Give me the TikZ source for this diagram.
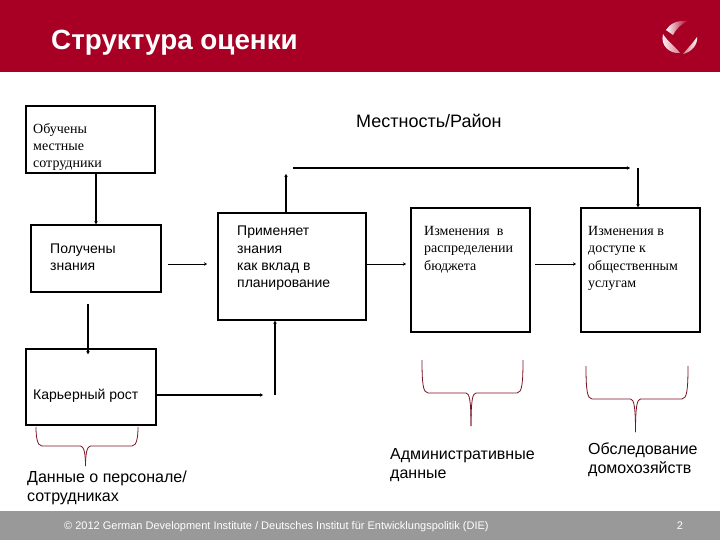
\documentclass[tikz,border=0pt]{standalone}
\usepackage{fontspec}
\setmainfont{Liberation Sans}
\newfontfamily\serifcyr{Liberation Serif}
\usetikzlibrary{arrows.meta}
\definecolor{diered}{HTML}{A80024}
\definecolor{diegray}{HTML}{999999}
\definecolor{bracered}{HTML}{7A1222}
\tikzset{
  boxnode/.style={draw, line width=1.5pt, inner sep=0pt},
  sanstext/.style={anchor=west, align=left, inner sep=0pt, font=\fontsize{14}{17.3}\selectfont},
  seriftext/.style={anchor=west, align=left, inner sep=0pt, font=\serifcyr\fontsize{14}{17.3}\selectfont},
  thinarrow/.style={line width=0.8pt, -{Stealth[length=3pt,width=3.5pt]}},
  thickarrow/.style={line width=1.5pt, -{Stealth[length=3pt,width=3.5pt]}},
  bracecurve/.style={draw=bracered, line width=0.8pt}
}
\begin{document}
\begin{tikzpicture}[x=1pt,y=-1pt]
    \useasboundingbox (0,0) rectangle (720,540);

    % Header and footer
    \fill[diered] (0,0) rectangle (720,72);
    \fill[diegray] (0,511) rectangle (720,540);
    \node[anchor=west, inner sep=0pt, text=white, font=\fontsize{27.8}{30}\bfseries\selectfont] (title) at (51,42.5) {Структура оценки};
    \node[anchor=west, inner sep=0pt, text=white, font=\fontsize{11}{12}\selectfont] (copyright) at (64,526.5) {© 2012 German Development Institute / Deutsches Institut für Entwicklungspolitik (DIE)};
    \node[inner sep=0pt, text=white, font=\fontsize{11}{12}\selectfont] (pagenum) at (680,526) {2};

    % Logo
    \shade[left color=white, right color=diered] (666,30) .. controls (670,24) and (676,20) .. (688,21) .. controls (681,24) and (676,29) .. (673,35) -- cycle;
    \shade[left color=white, right color=diered!50!white] (663,34) .. controls (668,42) and (675,46) .. (680,53) .. controls (670,54) and (660,46) .. (663,34) -- cycle;
    \shade[left color=diered!50!white, right color=white] (683,54) .. controls (688,48) and (692,44) .. (697,37) .. controls (698,44) and (692,52) .. (683,54) -- cycle;

    % Boxes
    \node[boxnode, minimum width=129pt, minimum height=67pt] (trained) at (90.5,139.5) {};
    \node[boxnode, minimum width=130pt, minimum height=67pt] (knowledge) at (96,258.5) {};
    \node[boxnode, minimum width=130pt, minimum height=76pt] (career) at (91,387) {};
    \node[boxnode, minimum width=148pt, minimum height=107pt] (applies) at (292,266.5) {};
    \node[boxnode, minimum width=119pt, minimum height=124pt] (budget) at (470.5,270) {};
    \node[boxnode, minimum width=119pt, minimum height=124pt] (access) at (640.5,270) {};

    % Box texts
    \node[seriftext] (trainedtext) at (33,147) {Обучены\\местные\\сотрудники};
    \node[sanstext] (knowledgetext) at (50,257) {Получены\\знания};
    \node[sanstext] (careertext) at (33,396) {Карьерный рост};
    \node[sanstext] (appliestext) at (237,258.5) {Применяет\\знания\\как вклад в\\планирование};
    \node[seriftext] (budgettext) at (424,249.5) {Изменения~~в\\распределении\\бюджета};
    \node[seriftext] (accesstext) at (588,258.5) {Изменения в\\доступе к\\общественным\\услугам};

    % Free ends of the connectors
    \coordinate (knowledgeout) at (168,264);
    \coordinate (appliesin) at (207,264);
    \coordinate (appliesout) at (366,264);
    \coordinate (budgetin) at (406,264);
    \coordinate (budgetout) at (535,264);
    \coordinate (accessin) at (576,264);
    \coordinate (careerin) at (88,304);
    \coordinate (riseend) at (286,174);
    \coordinate (linestart) at (293,168);
    \coordinate (lineend) at (630,168);
    \coordinate (dropstart) at (638,168);
    \coordinate (careerend) at (263,395);
    \coordinate (risestart) at (275,395);

    % Connectors
    \draw[thickarrow] (trained.south -| knowledge.north) -- (knowledge.north);
    \draw[thinarrow] (knowledgeout) -- (appliesin);
    \draw[thinarrow] (appliesout) -- (budgetin);
    \draw[thinarrow] (budgetout) -- (accessin);
    \draw[thickarrow] (careerin) -- ([yshift=-6pt]careerin |- career.north);
    \draw[thickarrow] (career.east |- careerend) -- (careerend);
    \draw[thickarrow] (risestart) -- (risestart |- applies.south);
    \draw[thickarrow] (riseend |- applies.north) -- (riseend);
    \draw[thickarrow] (linestart) -- (lineend);
    \draw[thickarrow] (dropstart) -- (dropstart |- access.north);

    % Braces
    \foreach \xl/\xm/\xr/\yt/\yh/\yb in {36/85.5/138/427/446/466, 422/471/523/360/393/426, 586/635.5/688/366/399/432} {
      \draw[bracecurve] (\xl,\yt) .. controls (\xl,\yh-10) and (\xl+1,\yh) .. (\xl+6,\yh) -- (\xm-5,\yh)
        .. controls (\xm-1.5,\yh) and (\xm,\yh+8) .. (\xm,\yb);
      \draw[bracecurve] (\xr,\yt) .. controls (\xr,\yh-10) and (\xr-1,\yh) .. (\xr-6,\yh) -- (\xm+5,\yh)
        .. controls (\xm+1.5,\yh) and (\xm,\yh+8) .. (\xm,\yb);
    }

    % Labels
    \node[sanstext, font=\fontsize{18}{20}\selectfont] (district) at (356,121) {Местность/Район};
    \node[sanstext, font=\fontsize{16}{19.3}\selectfont] (staffdata) at (27,488) {Данные о персонале/\\сотрудниках};
    \node[sanstext, font=\fontsize{16}{19.3}\selectfont] (admindata) at (390,465) {Административные\\данные};
    \node[sanstext, font=\fontsize{16}{19.3}\selectfont] (household) at (588,460) {Обследование\\домохозяйств};
\end{tikzpicture}
\end{document}
